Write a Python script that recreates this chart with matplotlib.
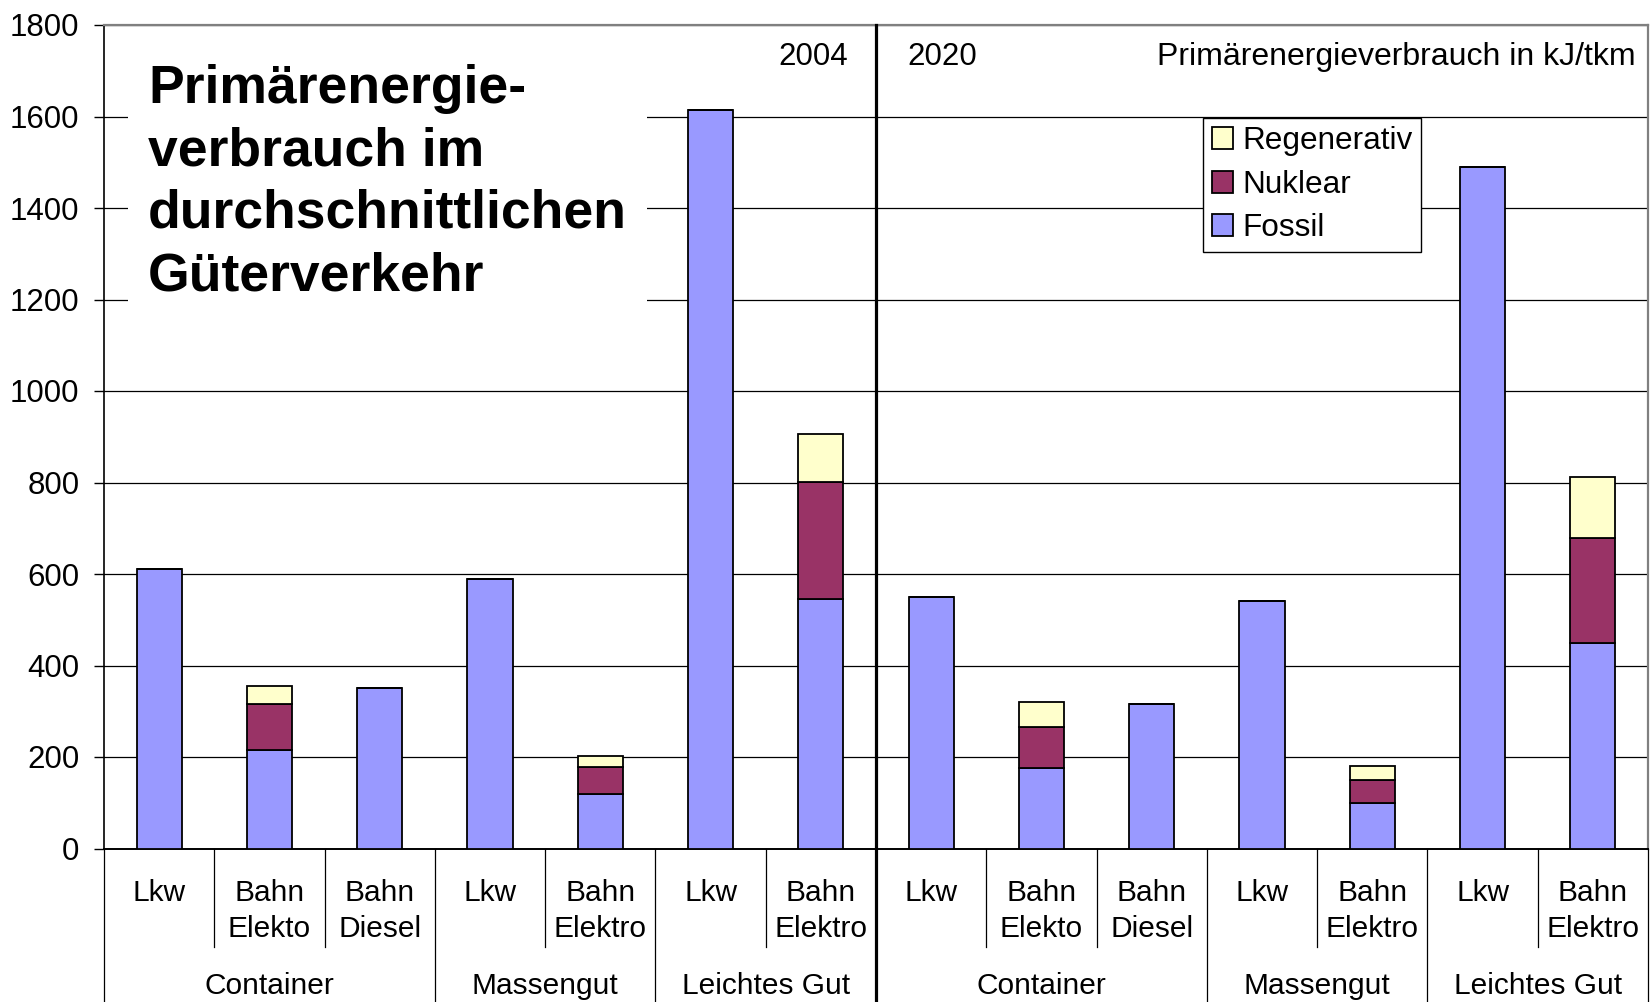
import matplotlib
matplotlib.use("Agg")
import matplotlib.pyplot as plt
from matplotlib.patches import Patch
import numpy as np

plt.rcParams['font.family'] = ['Liberation Sans', 'DejaVu Sans']

# ---- data ----
years = ["2004", "2020"]
sub_labels = ["Lkw", "Bahn\nElekto", "Bahn\nDiesel", "Lkw", "Bahn\nElektro", "Lkw", "Bahn\nElektro"]
groups = ["Container", "Massengut", "Leichtes Gut"]
group_sizes = [3, 2, 2]

fossil_2004 = [612, 215, 351, 589, 120, 1615, 545]
nuklear_2004 = [0, 100, 0, 0, 59, 0, 257]
regen_2004 = [0, 41, 0, 0, 24, 0, 103]

fossil_2020 = [550, 176, 315, 542, 99, 1490, 449]
nuklear_2020 = [0, 90, 0, 0, 51, 0, 229]
regen_2020 = [0, 54, 0, 0, 31, 0, 135]

y_ticks = [0, 200, 400, 600, 800, 1000, 1200, 1400, 1600, 1800]

title_text = "Primärenergie-\nverbrauch im\ndurchschnittlichen\nGüterverkehr"
unit_text = "Primärenergieverbrauch in kJ/tkm"

c_fossil = "#9999FF"
c_nuklear = "#993366"
c_regen = "#FFFFCC"

fossil = np.array(fossil_2004 + fossil_2020, dtype=float)
nuklear = np.array(nuklear_2004 + nuklear_2020, dtype=float)
regen = np.array(regen_2004 + regen_2020, dtype=float)
labels = sub_labels * 2
n = len(labels)
x = np.arange(n)

fig = plt.figure(figsize=(16.5, 10.02), dpi=100)
ax = fig.add_axes([104/1650, 1-848.5/1002, 1544/1650, 823.5/1002])

bw = 0.41
ekw = dict(edgecolor="black", linewidth=1.3, zorder=3)
ax.bar(x, fossil, bw, color=c_fossil, **ekw)
ax.bar(x, nuklear, bw, bottom=fossil, color=c_nuklear, **ekw)
ax.bar(x, regen, bw, bottom=fossil + nuklear, color=c_regen, **ekw)

ax.set_xlim(-0.5, n - 0.5)
ax.set_ylim(0, 1800)
ax.set_yticks(y_ticks)
ax.set_yticklabels([str(v) for v in y_ticks], fontsize=22.5)
ax.tick_params(axis="y", length=7.2, width=1, pad=10.5, direction="out")
ax.set_xticks([])
ax.yaxis.grid(True, color="black", linewidth=0.9, zorder=0)
ax.set_axisbelow(True)

for s in ["top", "right"]:
    ax.spines[s].set_color("#808080")
    ax.spines[s].set_linewidth(1.6)
ax.spines["left"].set_linewidth(1.2)
ax.spines["bottom"].set_linewidth(1.4)

trans = ax.get_xaxis_transform()

# category labels
for i, lab in enumerate(labels):
    lines = lab.split("\n")
    for j, ln in enumerate(lines):
        ax.text(x[i], -0.054 - j * 0.0435, ln, transform=trans, ha="center",
                va="center", fontsize=21.5)

# group labels and separators
y_long = -0.1864
y_short = -0.1192
pos = -0.5
long_seps = [pos]
group_centers = []
for _ in years:
    for gsz in group_sizes:
        group_centers.append(pos + gsz / 2)
        pos += gsz
        long_seps.append(pos)
k = 0
for _ in years:
    for g in groups:
        ax.text(group_centers[k], -0.1675, g, transform=trans, ha="center",
                va="center", fontsize=21.5)
        k += 1

for s in long_seps:
    if abs(s - (len(sub_labels) - 0.5)) < 1e-9:
        continue
    ax.plot([s, s], [0, y_long], transform=trans, color="black", lw=0.9,
            clip_on=False, zorder=4)
for s in np.arange(-0.5, n, 1.0)[1:]:
    if s not in long_seps:
        ax.plot([s, s], [0, y_short], transform=trans, color="black", lw=0.9,
                clip_on=False, zorder=4)

# year divider
div = len(sub_labels) - 0.5
ax.plot([div, div], [y_long, 1], transform=trans, color="black", lw=2.3,
        clip_on=False, zorder=5)

# annotations
ax.text(0.4819, 0.961, years[0], transform=ax.transAxes, ha="right",
        va="center", fontsize=22.5)
ax.text(0.520, 0.961, years[1], transform=ax.transAxes, ha="left",
        va="center", fontsize=22.5)
ax.text(0.9922, 0.961, unit_text, transform=ax.transAxes, ha="right",
        va="center", fontsize=23)

ax.text(0.0285, 0.8085, title_text, transform=ax.transAxes, ha="left",
        va="center", fontsize=38.5, fontweight="bold", linespacing=1.32,
        zorder=4,
        bbox=dict(facecolor="white", edgecolor="none",
                  boxstyle="square,pad=0.38"))

# legend
handles = [Patch(facecolor=c_regen, edgecolor="black", linewidth=1.3),
           Patch(facecolor=c_nuklear, edgecolor="black", linewidth=1.3),
           Patch(facecolor=c_fossil, edgecolor="black", linewidth=1.3)]
leg = ax.legend(handles, ["Regenerativ", "Nuklear", "Fossil"],
                loc="upper left", bbox_to_anchor=(0.712, 0.887),
                borderaxespad=0, fontsize=22.7, frameon=True, fancybox=False,
                shadow=False, handlelength=0.68, handleheight=0.7,
                handletextpad=0.3, labelspacing=0.43, borderpad=0.26)
leg.get_frame().set_edgecolor("black")
leg.get_frame().set_linewidth(1.0)
leg.get_frame().set_alpha(1)
leg.set_zorder(6)

fig.savefig("out.png", dpi=100, facecolor="white")
